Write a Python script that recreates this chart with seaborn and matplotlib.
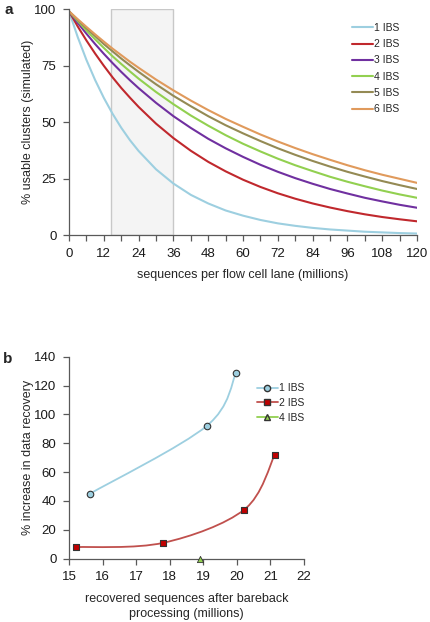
import numpy as np
import pandas as pd
import matplotlib
matplotlib.use("Agg")
import matplotlib.pyplot as plt
from matplotlib.path import Path
from matplotlib.patches import PathPatch, Rectangle
from matplotlib.lines import Line2D
import seaborn as sns

# panel a: simulated usable clusters vs lane output
lane_millions = [0, 3, 6, 9, 12, 15, 18, 21, 24, 30, 36, 42, 48, 54, 60, 66, 72, 78, 84, 90, 96, 102, 108, 114, 120]
ibs1 = [99, 87.6, 77.5, 68.6, 60.7, 53.7, 47.5, 42.0, 37.2, 29.1, 22.8, 17.8, 14.0, 10.9, 8.6, 6.7, 5.2, 4.1, 3.2, 2.5, 2.0, 1.5, 1.2, 0.9, 0.7]
ibs2 = [99, 92.3, 86.1, 80.3, 74.9, 69.8, 65.1, 60.8, 56.7, 49.3, 42.9, 37.3, 32.4, 28.2, 24.5, 21.3, 18.5, 16.1, 14.0, 12.2, 10.6, 9.2, 8.0, 7.0, 6.1]
ibs3 = [99, 93.9, 89.1, 84.5, 80.2, 76.1, 72.2, 68.5, 65.0, 58.5, 52.6, 47.4, 42.6, 38.4, 34.6, 31.1, 28.0, 25.2, 22.7, 20.4, 18.4, 16.5, 14.9, 13.4, 12.1]
ibs4 = [99, 94.7, 90.5, 86.6, 82.8, 79.1, 75.7, 72.4, 69.2, 63.3, 57.9, 52.9, 48.4, 44.2, 40.4, 37.0, 33.8, 30.9, 28.3, 25.8, 23.6, 21.6, 19.7, 18.0, 16.5]
ibs5 = [99, 95.2, 91.5, 88.0, 84.5, 81.3, 78.1, 75.1, 72.2, 66.7, 61.6, 57.0, 52.6, 48.6, 45.0, 41.6, 38.4, 35.5, 32.8, 30.3, 28.0, 25.9, 23.9, 22.1, 20.4]
ibs6 = [99, 95.5, 92.1, 88.8, 85.6, 82.5, 79.6, 76.7, 74.0, 68.8, 64.0, 59.5, 55.3, 51.4, 47.9, 44.5, 41.4, 38.5, 35.8, 33.3, 30.9, 28.7, 26.7, 24.9, 23.1]
ibs_labels = ["1 IBS", "2 IBS", "3 IBS", "4 IBS", "5 IBS", "6 IBS"]
shade_range = (14.5, 36)

# panel b: recovery after bareback processing
b1_x = [15.62, 19.1, 19.98]
b1_y = [45, 92, 129]
b2_x = [15.21, 17.81, 20.22, 21.13]
b2_y = [8, 11, 34, 72]
b4_x = [18.91]
b4_y = [0]

a_colors = ["#9dcfe0", "#c0282d", "#7030a0", "#92d050", "#948a54", "#e09a5c"]
axis_col = "#595959"

sns.set_style("white")
plt.rcParams["font.family"] = ["Liberation Sans", "DejaVu Sans"]
plt.rcParams["font.size"] = 9

fig = plt.figure(figsize=(4.3, 6.22), dpi=100)
ax1 = fig.add_axes([0.1605, 0.622, 0.8095, 0.3635])
ax2 = fig.add_axes([0.1605, 0.1018, 0.5465, 0.3247])

# ---- panel a
df_a = pd.DataFrame({"x": lane_millions * 6,
                     "y": ibs1 + ibs2 + ibs3 + ibs4 + ibs5 + ibs6,
                     "ibs": sum([[l] * len(lane_millions) for l in ibs_labels], [])})
ax1.add_patch(Rectangle((shade_range[0], 0), shade_range[1] - shade_range[0], 100,
                        facecolor="#f4f4f4", edgecolor="#c8c8c8", lw=1, zorder=0))
sns.lineplot(data=df_a, x="x", y="y", hue="ibs", palette=a_colors, ax=ax1, lw=1.5)
ax1.set_xlim(0, 120)
ax1.set_ylim(0, 100)
ax1.set_xticks(np.arange(0, 121, 6))
ax1.set_xticklabels([str(v) if v % 12 == 0 else "" for v in range(0, 121, 6)])
ax1.set_yticks([0, 25, 50, 75, 100])
ax1.set_xlabel("sequences per flow cell lane (millions)", fontsize=9, labelpad=7)
ax1.set_ylabel("% usable clusters (simulated)", fontsize=9, labelpad=0.5)
leg = ax1.legend(frameon=False, loc="upper right", bbox_to_anchor=(0.975, 0.98), fontsize=7.5,
                 handlelength=2.0, handletextpad=0.1, labelspacing=0.6)
for l in leg.get_lines():
    l.set_linewidth(1.5)
ax1.text(-0.185, 0.995, "a", transform=ax1.transAxes, fontsize=11, fontweight="bold", va="center")

# ---- panel b
def smooth_path(xs, ys):
    # Excel-like smoothed line: Catmull-Rom segments as cubic Bezier curves
    pts = np.column_stack([xs, ys]).astype(float)
    verts = [pts[0]]
    codes = [Path.MOVETO]
    n = len(pts)
    for i in range(n - 1):
        p0 = pts[max(i - 1, 0)]
        p1 = pts[i]
        p2 = pts[i + 1]
        p3 = pts[min(i + 2, n - 1)]
        c1 = p1 + (p2 - p0) / 6.0
        c2 = p2 - (p3 - p1) / 6.0
        verts += [c1, c2, p2]
        codes += [Path.CURVE4] * 3
    return Path(verts, codes)

ax2.add_patch(PathPatch(smooth_path(b1_x, b1_y), fill=False, edgecolor="#9dcfe0", lw=1.3))
ax2.add_patch(PathPatch(smooth_path(b2_x, b2_y), fill=False, edgecolor="#c0504d", lw=1.3))
sns.scatterplot(x=b1_x, y=b1_y, ax=ax2, marker="o", s=22, color="#9dcfe0",
                edgecolor="#333333", linewidth=0.8, zorder=3, clip_on=False)
sns.scatterplot(x=b2_x, y=b2_y, ax=ax2, marker="s", s=22, color="#c00000",
                edgecolor="#333333", linewidth=0.8, zorder=3, clip_on=False)
sns.scatterplot(x=b4_x, y=b4_y, ax=ax2, marker="^", s=20, color="#92d050",
                edgecolor="#333333", linewidth=0.6, zorder=3, clip_on=False)
ax2.set_xlim(15, 22)
ax2.set_ylim(0, 140)
ax2.set_xticks(range(15, 23))
ax2.set_yticks(range(0, 141, 20))
ax2.set_xlabel("recovered sequences after bareback\nprocessing (millions)", fontsize=9,
               labelpad=7, linespacing=1.3)
ax2.set_ylabel("% increase in data recovery", fontsize=9, labelpad=0.5)
handles = [Line2D([], [], color="#9dcfe0", marker="o", markerfacecolor="#9dcfe0", markeredgecolor="#333333", ms=4.5, lw=1.3),
           Line2D([], [], color="#c0504d", marker="s", markerfacecolor="#c00000", markeredgecolor="#333333", ms=4.5, lw=1.3),
           Line2D([], [], color="#92d050", marker="^", markerfacecolor="#92d050", markeredgecolor="#333333", ms=4.5, lw=1.3)]
ax2.legend(handles, ["1 IBS", "2 IBS", "4 IBS"], frameon=False, loc="upper left",
           bbox_to_anchor=(0.76, 0.915), fontsize=7.5, handlelength=2.0,
           handletextpad=0.1, labelspacing=0.45)
ax2.text(-0.28, 0.99, "b", transform=ax2.transAxes, fontsize=11, fontweight="bold", va="center")

for ax in (ax1, ax2):
    for s in ("top", "right"):
        ax.spines[s].set_visible(False)
    for s in ("left", "bottom"):
        ax.spines[s].set_color(axis_col)
        ax.spines[s].set_linewidth(0.9)
    ax.tick_params(axis="both", direction="out", length=4, width=0.9, color=axis_col, pad=5,
                   labelsize=9.5, labelcolor="#1a1a1a", bottom=True, left=True)
    ax.set_facecolor("white")

fig.savefig("out.png", dpi=100, facecolor="w")
